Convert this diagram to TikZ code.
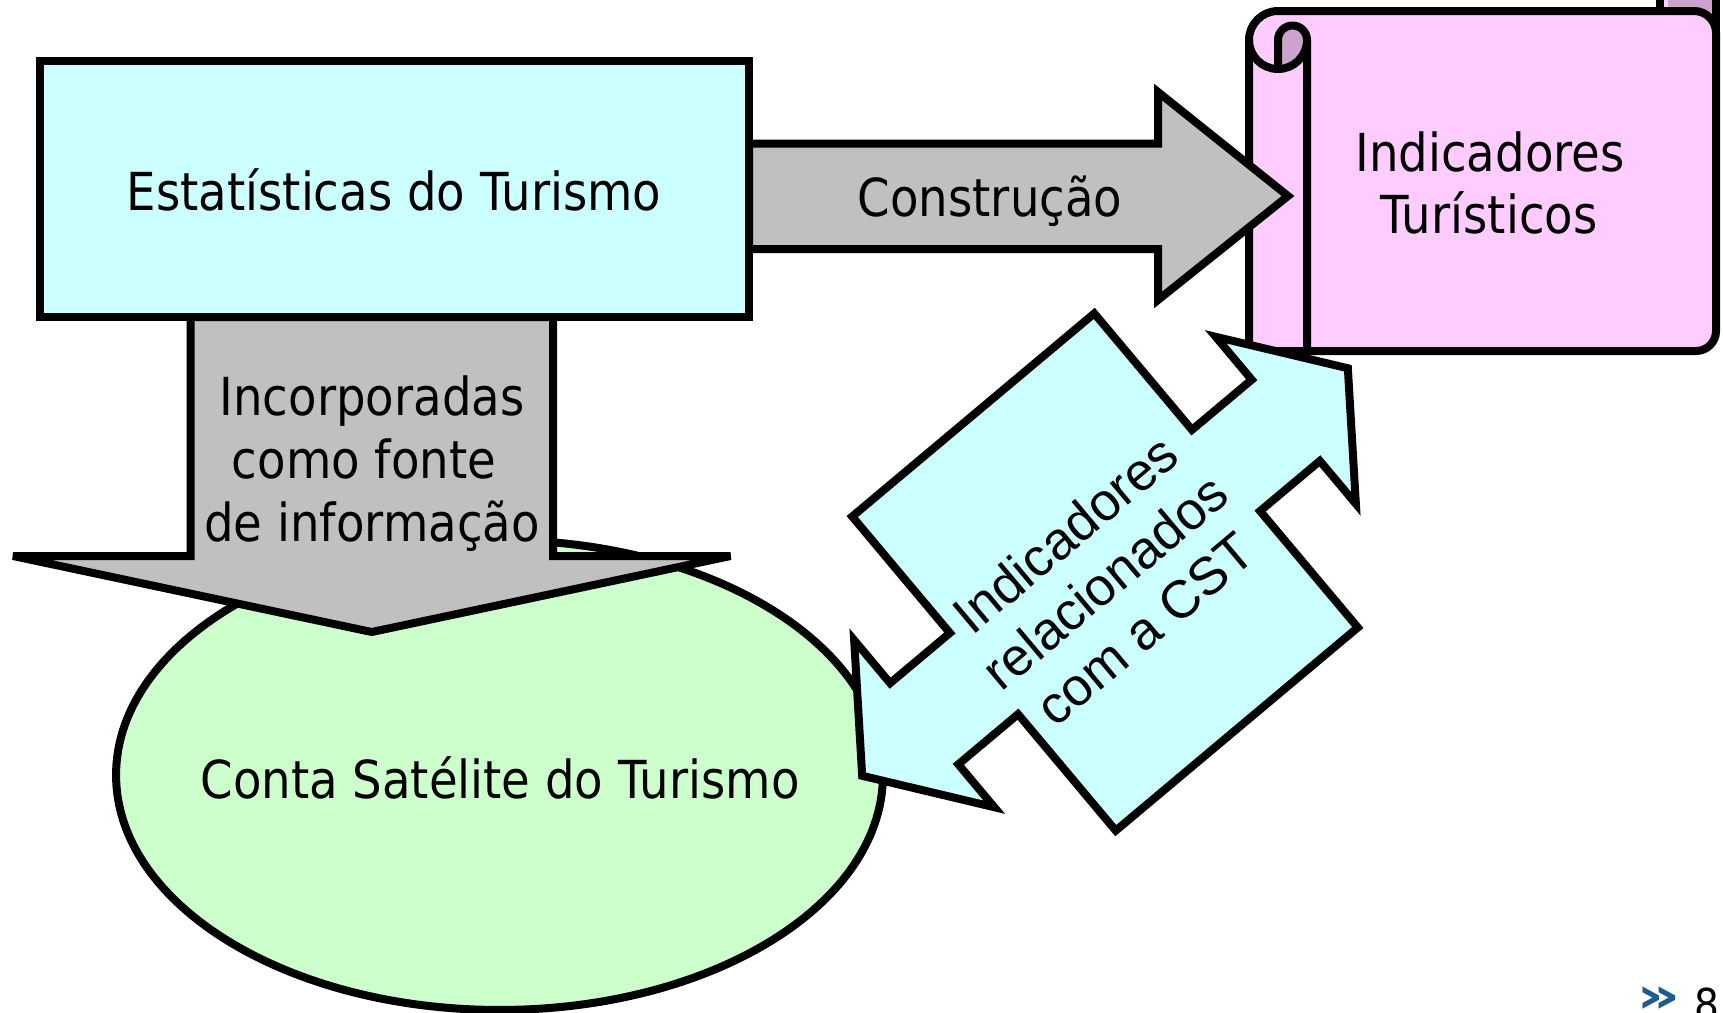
\documentclass[tikz,border=0pt]{standalone}
\usepackage{fontspec}
\setmainfont{DejaVu Sans}
\newfontfamily\tah[FakeStretch=0.89]{DejaVu Sans}
\newfontfamily\ari{Liberation Sans}
\usetikzlibrary{shapes.geometric}
\definecolor{cyanfill}{HTML}{CCFFFF}
\definecolor{greyfill}{HTML}{C0C0C0}
\definecolor{pinkfill}{HTML}{FFCCFF}
\definecolor{pinkdark}{HTML}{CCA3CC}
\definecolor{greenfill}{HTML}{CCFFCC}
\definecolor{pagblue}{HTML}{1F5A8C}
\begin{document}
\begin{tikzpicture}[x=0.02cm, y=-0.02cm,
  shp/.style={draw=black, line width=4.55pt, line join=miter, miter limit=8},
  thick line/.style={draw=black, line width=4.55pt},
  lbl/.style={font={\tah\fontsize{29.8pt}{35.5pt}\selectfont}, anchor=base, inner sep=0pt},
  rlbl/.style={font={\ari\fontsize{30.2pt}{36pt}\selectfont}, anchor=base, inner sep=0pt, rotate=40}]
\useasboundingbox (0,0) rectangle (1723,1012);
\clip (0,0) rectangle (1723,1012);

% ellipse
\node[shp, fill=greenfill, ellipse, minimum width=15.34cm, minimum height=9.4cm, inner sep=0pt] (cst) at (499.5,775) {};

% down arrow
\draw[shp, fill=greyfill] (190.5,317) -- (190.5,556) -- (13,556) -- (371.75,632) -- (730.5,556) -- (553,556) -- (553,317) -- cycle;

% rectangle
\node[shp, fill=cyanfill, rectangle, minimum width=14.19cm, minimum height=5.12cm, inner sep=0pt] (est) at (394.25,189) {};

% scroll
\fill[pinkfill] (1660,11) rectangle (1716,-60);
\fill[pinkdark] (1668,11) -- (1668,-60) -- (1716,-60) -- (1716,33) arc[start angle=0, end angle=-90, radius=22] -- cycle;
\draw[thick line] (1660,11) -- (1660,-60);
\draw[thick line] (1716,33) -- (1716,-60);
\draw[shp, fill=pinkfill] (1249,351) -- (1249,40) arc[start angle=180, end angle=270, radius=29]
  -- (1694,11) arc[start angle=270, end angle=360, radius=22]
  -- (1716,331) arc[start angle=0, end angle=90, radius=20] -- cycle;
\fill[pinkdark] (1278,40) arc[start angle=180, end angle=360, radius=14.5]
  arc[start angle=0, end angle=90, radius=29] -- cycle;
\draw[thick line] (1249,40) arc[start angle=180, end angle=0, radius=29];
\draw[thick line, line join=round] (1278,69) -- (1278,40) arc[start angle=180, end angle=360, radius=14.5] -- (1307,351);

% Construcao arrow
\draw[shp, fill=greyfill] (749,143.5) -- (1158,143.5) -- (1158,92) -- (1288,196) -- (1158,300) -- (1158,249) -- (749,249) -- cycle;

% double arrow callout
\begin{scope}[shift={(1105,572)}, rotate=40]
\draw[shp, fill=cyanfill] (158,-205) -- (-158,-205) -- (-158,-53) -- (-236,-53) -- (-236,-109) -- (-317,0)
  -- (-236,109) -- (-236,53) -- (-158,53) -- (-158,205) -- (158,205) -- (158,53) -- (236,53)
  -- (236,109) -- (317,0) -- (236,-109) -- (236,-53) -- (158,-53) -- cycle;
\node[rlbl] (r1) at (-6,-36) {Indicadores};
\node[rlbl] (r2) at (-6,26) {relacionados};
\node[rlbl] (r3) at (-6,88) {com a CST};
\end{scope}

% texts
\node[lbl] (t1) at (394,210) {Estatísticas do Turismo};
\node[lbl] (t2) at (990,216.5) {Construção};
\node[lbl] (t3) at (1490,171) {Indicadores};
\node[lbl] (t4) at (1489,233) {Turísticos};
\node[lbl] (t5) at (372,415) {Incorporadas};
\node[lbl] (t6) at (364,478) {como fonte};
\node[lbl] (t7) at (372,541) {de informação};
\node[lbl] (t8) at (500,798) {Conta Satélite do Turismo};

% page marker
\node[inner sep=0pt, anchor=base, text=pagblue, font={\bfseries\fontsize{28pt}{33pt}\selectfont}] (pm) at (1658.5,1012) {\scalebox{1.4}[1]{»}};
\node[inner sep=0pt, anchor=base, font={\tah\fontsize{25pt}{30pt}\selectfont}] (pn) at (1707,1020) {8};
\end{tikzpicture}
\end{document}
